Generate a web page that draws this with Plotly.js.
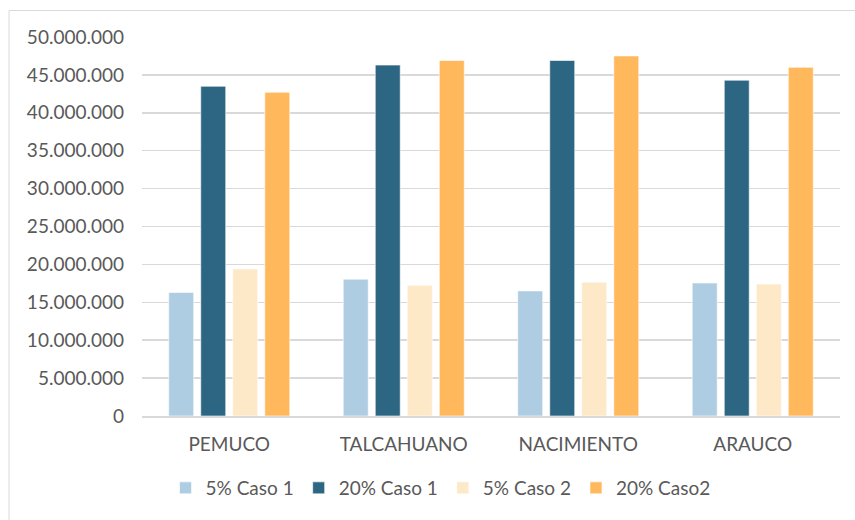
<!DOCTYPE html>
<html>
<head>
<meta charset="utf-8">
<script src="https://cdn.plot.ly/plotly-3.0.1.min.js"></script>
<style>
  html, body { margin: 0; padding: 0; background: #ffffff; }
  #chart { width: 855px; height: 520px; }
</style>
</head>
<body>
<div id="chart"></div>
<script>
// Comunas evaluadas
const comunas = ['PEMUCO', 'TALCAHUANO', 'NACIMIENTO', 'ARAUCO'];

// Valores por escenario
const caso1_5 = [16300000, 18050000, 16500000, 17550000];
const caso1_20 = [43500000, 46300000, 46900000, 44300000];
const caso2_5 = [19400000, 17250000, 17650000, 17400000];
const caso2_20 = [42700000, 46900000, 47500000, 46000000];

const seriesNames = ['5% Caso 1', '20% Caso 1', '5% Caso 2', '20% Caso2'];
const seriesColors = ['#AECDE2', '#2D6683', '#FDE8C8', '#FFB85C'];
const seriesValues = [caso1_5, caso1_20, caso2_5, caso2_20];

// Etiquetas del eje Y con separador de miles "."
const yTickVals = [0, 5000000, 10000000, 15000000, 20000000, 25000000, 30000000, 35000000, 40000000, 45000000, 50000000];
const yTickText = yTickVals.map(v => v.toString().replace(/\B(?=(\d{3})+(?!\d))/g, '.'));

const textColor = '#595959';
const gridColor = '#D9D9D9';
const fontFamily = 'Lato, "Open Sans", sans-serif';

const traces = seriesValues.map((vals, i) => ({
  type: 'bar',
  name: seriesNames[i],
  x: comunas,
  y: vals,
  marker: { color: seriesColors[i], line: { color: 'rgba(255,255,255,0.6)', width: 1 } },
  hoverinfo: 'skip'
}));

const layout = {
  width: 855,
  height: 520,
  margin: { l: 142, r: 15, t: 37, b: 104 },
  paper_bgcolor: '#ffffff',
  plot_bgcolor: '#ffffff',
  font: { family: fontFamily, size: 19, color: textColor },
  barmode: 'group',
  bargap: 0.266,
  bargroupgap: 0.22,
  showlegend: true,
  legend: {
    orientation: 'h',
    x: 0.4277,
    xanchor: 'center',
    y: -0.19,
    yanchor: 'middle',
    font: { family: fontFamily, size: 19, color: textColor },
    itemwidth: 30,
    traceorder: 'normal'
  },
  xaxis: {
    type: 'category',
    showgrid: false,
    showline: true,
    linecolor: gridColor,
    linewidth: 1.5,
    ticks: '',
    ticklabelstandoff: 11,
    tickfont: { family: fontFamily, size: 19, color: textColor },
    fixedrange: true
  },
  yaxis: {
    range: [0, 50000000],
    tickvals: yTickVals,
    ticktext: yTickText,
    showgrid: true,
    gridcolor: gridColor,
    gridwidth: 1.5,
    zeroline: false,
    showline: false,
    ticks: '',
    ticklabelstandoff: 17,
    tickfont: { family: fontFamily, size: 19, color: textColor },
    fixedrange: true
  },
  shapes: [
    {
      // marco del área del gráfico
      type: 'rect',
      xref: 'paper', yref: 'paper',
      x0: -0.1905, x1: 1.5, y0: -1, y1: 1.0698,
      line: { color: gridColor, width: 1 },
      fillcolor: 'rgba(0,0,0,0)',
      layer: 'below'
    }
  ]
};

Plotly.newPlot('chart', traces, layout, { displayModeBar: false, staticPlot: true });
</script>
</body>
</html>
